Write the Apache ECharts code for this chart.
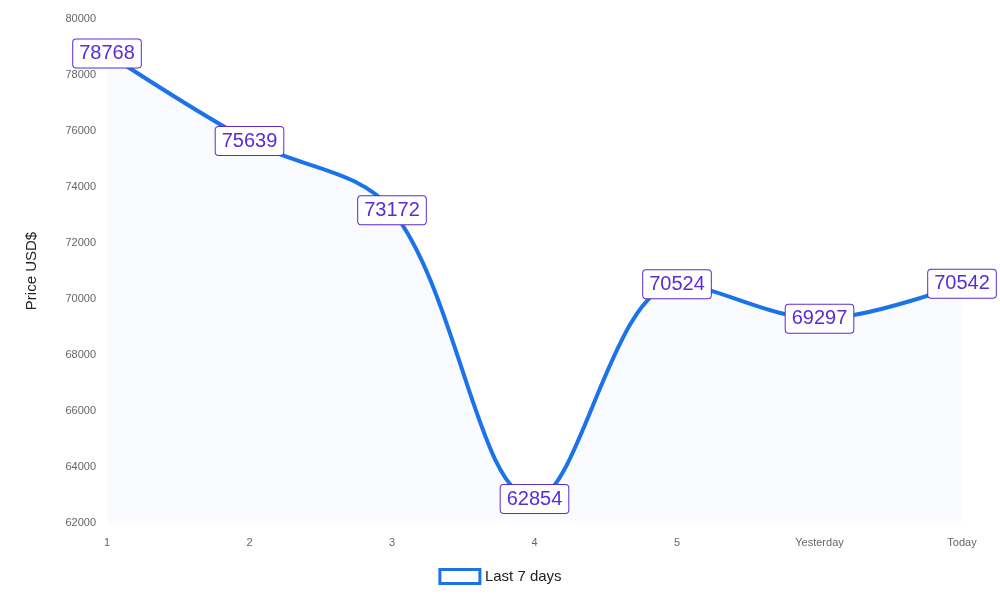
<!DOCTYPE html>
<html>
<head>
<meta charset="utf-8">
<script src="https://cdn.jsdelivr.net/npm/echarts@6/dist/echarts.min.js"></script>
<style>html,body{margin:0;padding:0;background:#fff}#chart{width:1000px;height:600px}</style>
</head>
<body>
<div id="chart"></div>
<script>
var days = ['1', '2', '3', '4', '5', 'Yesterday', 'Today'];
var prices = [78768, 75639, 73172, 62854, 70524, 69297, 70542];

var chart = echarts.init(document.getElementById('chart'));
chart.setOption({
    animation: false,
    grid: { left: 107, right: 38, top: 19, bottom: 77 },
    legend: {
        bottom: 10,
        left: 'center',
        data: ['Last 7 days'],
        icon: 'rect',
        itemWidth: 40,
        itemHeight: 14,
        textStyle: { fontFamily: 'Liberation Sans', fontSize: 15, color: '#222' },
        itemStyle: { color: '#fff', borderColor: '#1a73e8', borderWidth: 3 }
    },
    xAxis: {
        type: 'category',
        boundaryGap: false,
        data: days,
        axisLine: { show: false },
        axisTick: { show: false },
        axisLabel: { color: '#666', fontSize: 11, margin: 14, fontFamily: 'Liberation Sans' }
    },
    yAxis: {
        type: 'value',
        min: 62000,
        max: 80000,
        interval: 2000,
        name: 'Price USD$',
        nameLocation: 'middle',
        nameGap: 68,
        nameTextStyle: { fontSize: 15, color: '#222', fontFamily: 'Liberation Sans' },
        splitLine: { show: false },
        axisLine: { show: false },
        axisTick: { show: false },
        axisLabel: { color: '#666', fontSize: 11, margin: 11, fontFamily: 'Liberation Sans', formatter: function (v) { return String(v); } }
    },
    series: [{
        name: 'Last 7 days',
        type: 'line',
        data: prices,
        smooth: 0.35,
        symbol: 'circle',
        symbolSize: 1,
        showSymbol: true,
        lineStyle: { color: '#1a73e8', width: 4 },
        itemStyle: { color: '#1a73e8' },
        areaStyle: { color: '#f8f9fe', origin: 'start' },
        label: {
            show: true,
            position: 'inside',
            color: '#5b2bd6',
            fontSize: 20,
            fontFamily: 'Liberation Sans',
            backgroundColor: '#fff',
            borderColor: '#5b2bd6',
            borderWidth: 1,
            borderRadius: 3,
            padding: [5, 6, 3, 6]
        }
    }]
});
</script>
</body>
</html>
